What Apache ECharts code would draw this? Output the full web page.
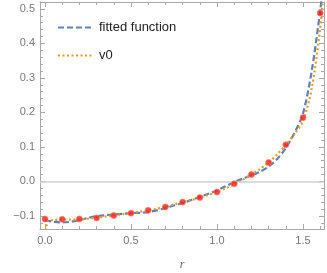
<!DOCTYPE html>
<html><head><meta charset="utf-8">
<script src="https://cdn.jsdelivr.net/npm/echarts@6/dist/echarts.min.js"></script>
<style>html,body{margin:0;padding:0;background:#fff}#c{width:327px;height:273px}</style>
</head><body><div id="c"></div>
<script>
// fitted function (blue dashed)
const rFit = [0.00,0.05,0.10,0.15,0.20,0.25,0.30,0.35,0.40,0.45,0.50,0.55,0.60,0.65,0.70,0.75,0.80,0.85,0.90,0.95,1.00,1.05,1.10,1.15,1.20,1.25,1.30,1.35,1.40,1.45,1.50,1.55,1.60,1.62];
const vFit = [-0.113,-0.117,-0.119,-0.117,-0.112,-0.106,-0.101,-0.098,-0.096,-0.094,-0.092,-0.091,-0.089,-0.084,-0.077,-0.070,-0.063,-0.054,-0.045,-0.036,-0.026,-0.014,-0.002,0.008,0.017,0.028,0.043,0.065,0.097,0.140,0.197,0.318,0.495,0.580];
// v0 (orange dotted)
const rV0 = [0.00,0.01,0.03,0.05,0.10,0.15,0.20,0.25,0.30,0.35,0.40,0.45,0.50,0.55,0.60,0.65,0.70,0.75,0.80,0.85,0.90,0.95,1.00,1.05,1.10,1.15,1.20,1.25,1.30,1.35,1.40,1.45,1.50,1.55,1.60,1.62];
const vV0 = [-0.300,-0.118,-0.113,-0.112,-0.111,-0.111,-0.110,-0.108,-0.105,-0.102,-0.099,-0.095,-0.092,-0.088,-0.084,-0.079,-0.074,-0.067,-0.060,-0.054,-0.047,-0.039,-0.031,-0.020,-0.008,0.005,0.020,0.036,0.055,0.078,0.106,0.137,0.175,0.268,0.445,0.560];
// data points (red)
const rPts = [0.0,0.1,0.2,0.3,0.4,0.5,0.6,0.7,0.8,0.9,1.0,1.1,1.2,1.3,1.4,1.5,1.6];
const vPts = [-0.109,-0.110,-0.109,-0.106,-0.099,-0.092,-0.084,-0.074,-0.060,-0.047,-0.031,-0.007,0.020,0.055,0.106,0.185,0.488];
// ticks
const xMajor = [0.0,0.5,1.0,1.5];
const xMinor = [0.1,0.2,0.3,0.4,0.6,0.7,0.8,0.9,1.1,1.2,1.3,1.4,1.6];
const yMajor = [-0.1,0.0,0.1,0.2,0.3,0.4,0.5];
const yMinor = [-0.12,-0.08,-0.06,-0.04,-0.02,0.02,0.04,0.06,0.08,0.12,0.14,0.16,0.18,0.22,0.24,0.26,0.28,0.32,0.34,0.36,0.38,0.42,0.44,0.46,0.48];

const XMIN=-0.029, XMAX=1.622, YMIN=-0.138, YMAX=0.52;
const axisCol = '#a8a8a8';
const fmt = v => (v<0?'\u2212':'') + Math.abs(v).toFixed(1);

function xAx(pos, ticks, len, labels, line, extra){
  return Object.assign({type:'value', position:pos, min:XMIN, max:XMAX, offset:0,
    axisLine:{show:line, onZero:false, lineStyle:{color:axisCol,width:1}},
    axisTick:{show:true, inside:true, length:len, customValues:ticks, lineStyle:{color:axisCol}},
    axisLabel:{show:labels, customValues:ticks, formatter:fmt, color:'#777', fontSize:11, fontFamily:'Liberation Sans', margin:6},
    splitLine:{show:false}}, extra||{});
}
function yAx(pos, ticks, len, labels, line, extra){
  return Object.assign({type:'value', position:pos, min:YMIN, max:YMAX, offset:0,
    axisLine:{show:line, onZero:false, lineStyle:{color:axisCol,width:1}},
    axisTick:{show:true, inside:true, length:len, customValues:ticks, lineStyle:{color:axisCol}},
    axisLabel:{show:labels, customValues:ticks, formatter:fmt, color:'#777', fontSize:11, fontFamily:'Liberation Sans', margin:5},
    splitLine:{show:false}}, extra||{});
}

const chart = echarts.init(document.getElementById('c'), null, {renderer:'canvas'});
chart.setOption({
  animation:false,
  grid:{left:40, right:3, top:2, bottom:44, containLabel:false, outerBoundsMode:'none'},
  legend:{
    left:52, top:16, orient:'vertical', itemWidth:36, itemHeight:10, itemGap:15,
    data:['fitted function','v0'],
    itemStyle:{opacity:0},
    textStyle:{color:'#222', fontSize:13, fontFamily:'Liberation Sans Narrow, Liberation Sans'},
    selectedMode:false
  },
  xAxis:[
    xAx('bottom', xMajor, 5, true, true, {name:'r', nameLocation:'middle', nameGap:30,
      nameTextStyle:{fontStyle:'italic', color:'#666', fontSize:12, fontFamily:'Liberation Serif'}}),
    xAx('bottom', xMinor, 3, false, false),
    xAx('top', xMajor, 5, false, true),
    xAx('top', xMinor, 3, false, false)
  ],
  yAxis:[
    yAx('left', yMajor, 5, true, true, {name:'fitted function', nameLocation:'middle', nameGap:28,
      nameTextStyle:{color:'#666', fontSize:11, fontFamily:'Liberation Sans'}}),
    yAx('left', yMinor, 3, false, false),
    yAx('right', yMajor, 5, false, true),
    yAx('right', yMinor, 3, false, false)
  ],
  series:[
    {name:'zero', type:'line', data:[], silent:true,
     markLine:{silent:true, symbol:'none', label:{show:false},
       lineStyle:{color:'#cfcfcf', width:1.5, type:'solid'}, data:[{yAxis:0}]}},
    {name:'fitted function', type:'line', showSymbol:false, symbol:'none', smooth:0.3,
     data:rFit.map((r,i)=>[r,vFit[i]]),
     lineStyle:{color:'#5e81b5', width:2.2, type:[6,3]}, itemStyle:{color:'#5e81b5'}, z:3},
    {name:'v0', type:'line', showSymbol:false, symbol:'none', smooth:0.3,
     data:rV0.map((r,i)=>[r,vV0[i]]),
     lineStyle:{color:'#e19c24', width:2.2, type:[2,2.5]}, itemStyle:{color:'#e19c24'}, z:4},
    {name:'pts', type:'scatter', symbolSize:6,
     data:rPts.map((r,i)=>[r,vPts[i]]),
     itemStyle:{color:'#ff1a1a', borderColor:'#ff7a5a', borderWidth:0.8}, z:5}
  ]
});
</script></body></html>
